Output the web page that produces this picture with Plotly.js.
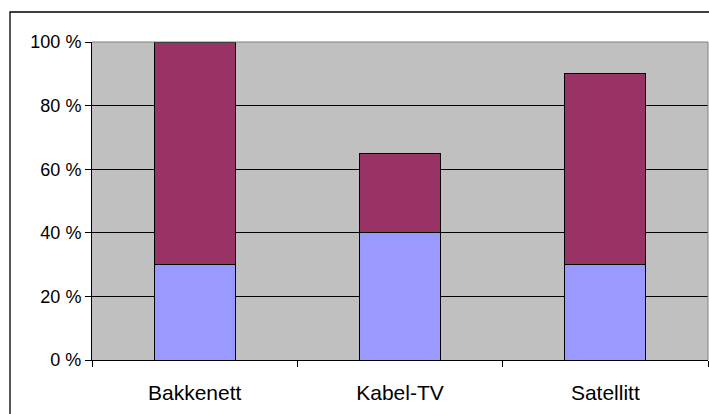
<!DOCTYPE html>
<html>
<head>
<meta charset="utf-8">
<script src="https://cdn.plot.ly/plotly-3.0.1.min.js"></script>
<style>
html,body{margin:0;padding:0;background:#fff;}
#chart{width:709px;height:414px;}
</style>
</head>
<body>
<div id="chart"></div>
<script>
const categories = ["Bakkenett", "Kabel-TV", "Satellitt"];
const lowerValues = [30, 40, 30];
const upperValues = [70, 25, 60];
const yTicks = [0, 20, 40, 60, 80, 100];

const traces = [
  {
    type: "bar", x: categories, y: lowerValues, name: "A",
    marker: {color: "#9999FF", line: {color: "#000000", width: 1}},
    hoverinfo: "none"
  },
  {
    type: "bar", x: categories, y: upperValues, name: "B",
    marker: {color: "#993366", line: {color: "#000000", width: 1}},
    hoverinfo: "none"
  }
];

const layout = {
  width: 709, height: 414,
  margin: {l: 92, r: 1, t: 42, b: 54, pad: 0},
  paper_bgcolor: "#ffffff",
  plot_bgcolor: "#C0C0C0",
  barmode: "stack",
  bargap: 0.605,
  showlegend: false,
  font: {family: "Liberation Sans, Arial, sans-serif", color: "#000000"},
  xaxis: {
    type: "category",
    showgrid: false,
    showline: true, linecolor: "#000000", linewidth: 1,
    ticks: "outside", ticklen: 6, tickcolor: "#000000",
    tickson: "boundaries",
    ticklabelstandoff: 14,
    tickfont: {size: 21, family: "Liberation Sans, Arial, sans-serif"},
    zeroline: false
  },
  yaxis: {
    range: [0, 100],
    tickvals: yTicks,
    ticktext: yTicks.map(v => v + " %"),
    showgrid: true, gridcolor: "#000000", gridwidth: 1,
    showline: true, linecolor: "#000000", linewidth: 1,
    ticks: "outside", ticklen: 6, tickcolor: "#000000",
    tickfont: {size: 18, family: "Liberation Sans, Arial, sans-serif"},
    zeroline: false
  },
  shapes: [
    {type: "line", xref: "paper", yref: "paper", x0: 0, x1: 1, y0: 1, y1: 1,
     line: {color: "#808080", width: 1}, layer: "above"},
    {type: "line", xref: "paper", yref: "paper", x0: 1, x1: 1, y0: 0, y1: 1,
     line: {color: "#808080", width: 1}, layer: "above"},
    {type: "rect", xref: "paper", yref: "paper", x0: -0.1331, x1: 1.05, y0: -0.3, y1: 1.0943,
     line: {color: "#000000", width: 1.3}, fillcolor: "rgba(0,0,0,0)", layer: "above"}
  ]
};

Plotly.newPlot("chart", traces, layout, {staticPlot: true, displayModeBar: false});
</script>
</body>
</html>
